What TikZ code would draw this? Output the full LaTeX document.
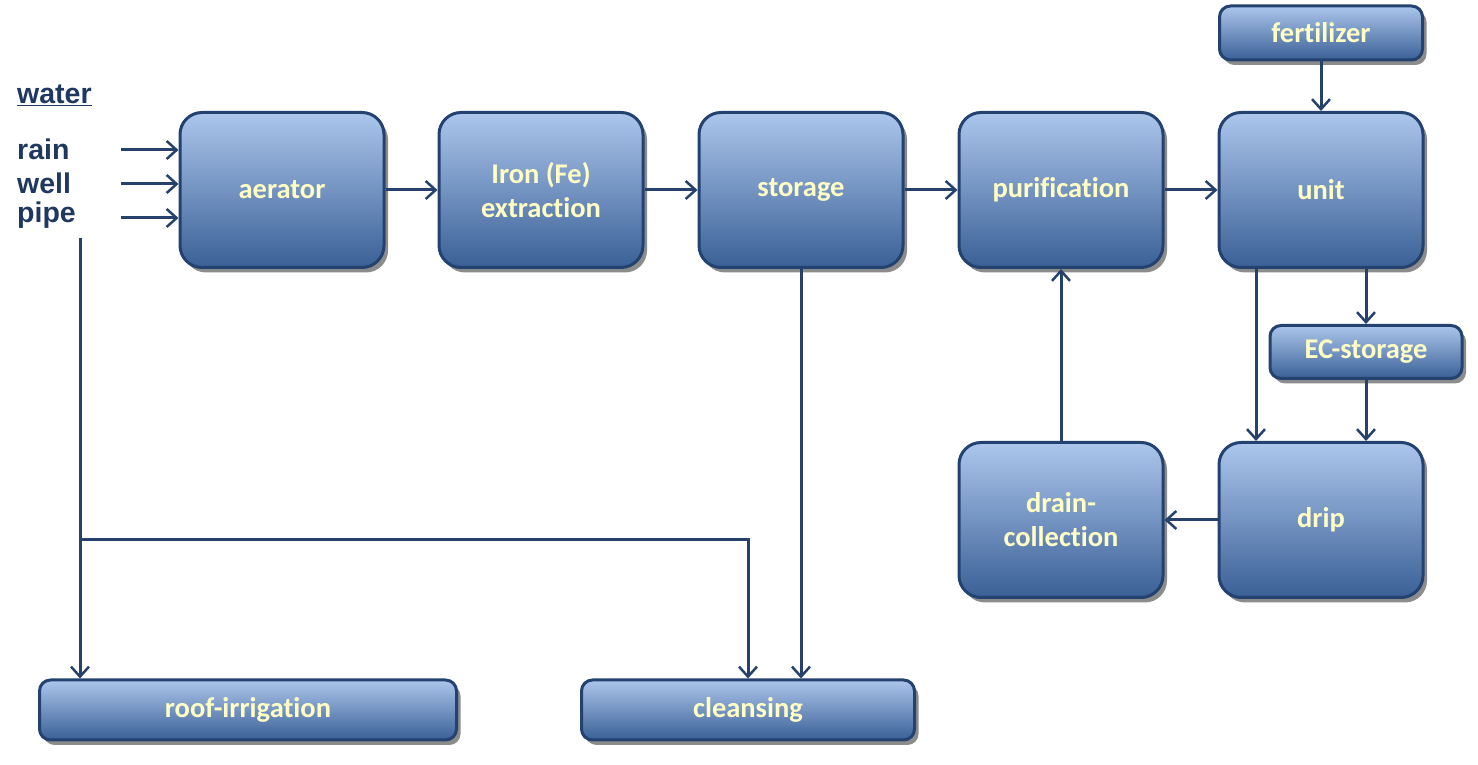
\documentclass[tikz,border=0pt]{standalone}
\usepackage{fontspec}
\setmainfont[Ligatures=NoCommon]{Carlito}
\newfontfamily\labelfont{Liberation Sans}
\usetikzlibrary{arrows.meta,shadows,shadings}
\definecolor{boxtop}{RGB}{172,198,236}
\definecolor{boxmid}{RGB}{88,124,180}
\definecolor{boxbot}{RGB}{58,96,150}
\definecolor{boxline}{RGB}{36,66,112}
\definecolor{flowcol}{RGB}{38,66,108}
\definecolor{textcol}{RGB}{255,255,196}
\definecolor{labelcol}{RGB}{30,56,96}
\tikzset{
  unitbox/.style={rounded corners=22bp, draw=boxline, line width=3bp,
    top color=boxtop, middle color=boxmid, bottom color=boxbot,
    drop shadow={shadow xshift=4bp, shadow yshift=-5bp, opacity=0.45, fill=black},
    minimum width=204bp, minimum height=155bp, inner sep=0pt, align=center,
    text=textcol, font=\fontsize{28.5bp}{34bp}\selectfont\bfseries},
  barbox/.style={unitbox, rounded corners=11bp, minimum height=54bp},
  flow/.style={draw=flowcol, line width=3bp, -{Straight Barb[length=10bp,width=18bp,line width=2.5bp]}},
  srclabel/.style={anchor=west, inner sep=0pt, text=labelcol,
    font=\labelfont\fontsize{28.5bp}{32bp}\selectfont\bfseries},
}
\begin{document}
\begin{tikzpicture}[>=latex]
\useasboundingbox (0bp,0bp) rectangle (1478bp,765bp);
%%
  % Node: sources
  \node[srclabel] (water) at (17bp,670bp) {\underline{water}};
  \node[srclabel] (rain) at (17bp,616bp) {rain};
  \node[srclabel] (well) at (17bp,582bp) {well};
  \node[srclabel] (pipe) at (17bp,550bp) {pipe};
  % Node: main line
  \node[unitbox] (aerator) at (282bp,575bp) {aerator};
  \node[unitbox] (iron) at (541bp,575bp) {Iron (Fe)\\extraction};
  \node[unitbox] (storage) at (801bp,575bp) {storage};
  \node[unitbox] (purification) at (1061bp,575bp) {purification};
  \node[unitbox] (unit) at (1321bp,575bp) {unit};
  % Node: side boxes
  \node[barbox, minimum width=203bp] (fertilizer) at (1321bp,732bp) {fertilizer};
  \node[barbox, minimum width=192bp, minimum height=53bp] (ecstorage) at (1366bp,413bp) {EC-storage};
  \node[unitbox] (drip) at (1321bp,245bp) {drip};
  \node[unitbox] (drain) at (1061bp,245bp) {drain-\\collection};
  \node[barbox, minimum width=417bp, minimum height=60bp] (roof) at (248bp,55bp) {roof-irrigation};
  \node[barbox, minimum width=333bp, minimum height=60bp] (cleansing) at (748bp,55bp) {cleansing};
  % Edge: sources -> aerator
  \coordinate (in1) at (121bp,615bp);
  \coordinate (in2) at (121bp,581bp);
  \coordinate (in3) at (121bp,547bp);
  \foreach \c in {in1,in2,in3}
    \draw[flow] (\c) -- (\c -| aerator.west);
  % Edge: main line
  \draw[flow] (aerator) -- (iron);
  \draw[flow] (iron) -- (storage);
  \draw[flow] (storage) -- (purification);
  \draw[flow] (purification) -- (unit);
  \draw[flow] (fertilizer) -- (unit);
  % Edge: unit -> drip
  \draw[flow] ([xshift=-65bp]unit.south) -- ([xshift=-65bp]drip.north);
  \draw[flow] (ecstorage.north |- unit.south) -- (ecstorage.north);
  \draw[flow] (ecstorage.south) -- (ecstorage.south |- drip.north);
  % Edge: drip -> drain -> purification
  \draw[flow] (drip) -- (drain);
  \draw[flow] (drain) -- (purification);
  % Edge: storage -> cleansing
  \draw[flow] (storage.south) -- (storage.south |- cleansing.north);
  % Edge: water -> roof, cleansing
  \coordinate (wtop) at (80bp,527bp);
  \coordinate (wsplit) at (80bp,225bp);
  \draw[flow] (wtop) -- (wtop |- roof.north);
  \draw[flow] (wsplit) -- (wsplit -| cleansing.north) -- (cleansing.north);
%
\end{tikzpicture}
\end{document}
